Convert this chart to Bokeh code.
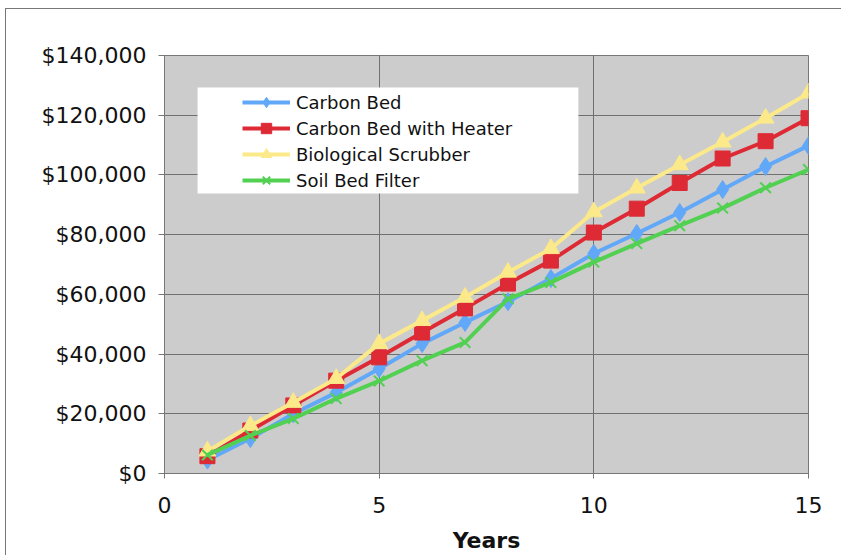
from bokeh.plotting import figure
from bokeh.models import NumeralTickFormatter, FixedTicker, Range1d, Legend, LegendItem, BoxAnnotation
from bokeh.embed import file_html
from bokeh.resources import INLINE

years = list(range(1, 16))
carbon_bed = [4500, 11700, 20000, 27100, 35100, 43500, 50600, 57500, 65300, 73700, 80400, 87400, 95100, 102800, 109800]
carbon_heater = [5800, 14400, 22800, 31100, 38900, 47200, 55300, 63600, 71300, 80700, 88700, 97300, 105500, 111300, 119000]
bio_scrubber = [7500, 16000, 23800, 31800, 43500, 51200, 59000, 67400, 75300, 87600, 95600, 103400, 111000, 119000, 127400]
soil_bed = [6200, 12700, 18400, 25100, 31000, 37800, 43900, 58500, 64000, 70800, 77000, 83000, 88900, 95700, 101800]

series_names = ["Carbon Bed", "Carbon Bed with Heater", "Biological Scrubber", "Soil Bed Filter"]
x_ticks = [0, 5, 10, 15]
y_ticks = [0, 20000, 40000, 60000, 80000, 100000, 120000, 140000]

FONT = "DejaVu Sans"

p = figure(frame_width=644, frame_height=418, output_backend="svg", toolbar_location=None,
           x_range=Range1d(0, 15), y_range=Range1d(0, 140000),
           min_border_left=158, min_border_top=46, min_border_right=33, min_border_bottom=76,
           background_fill_color="#cccccc", border_fill_color="white")
p.margin = (8, 0, 0, 5)
p.styles = {"border-left": "1px solid #777777", "border-top": "1px solid #777777"}

p.outline_line_color = "#777777"
p.outline_line_width = 1

p.xaxis.ticker = FixedTicker(ticks=x_ticks)
p.yaxis.ticker = FixedTicker(ticks=y_ticks)
p.yaxis.formatter = NumeralTickFormatter(format="$0,0")
p.xgrid.grid_line_color = "#707070"
p.ygrid.grid_line_color = "#707070"
p.xgrid.grid_line_width = 1
p.ygrid.grid_line_width = 1

for ax in (p.xaxis[0], p.yaxis[0]):
    ax.axis_line_color = "#777777"
    ax.major_tick_line_color = "#777777"
    ax.minor_tick_line_color = None
    ax.major_tick_in = 0
    ax.major_label_text_font = FONT
    ax.major_label_text_font_size = "22px"
    ax.major_label_text_color = "#111111"

p.yaxis.major_tick_out = 6
p.yaxis.major_label_standoff = 12
p.xaxis.major_tick_out = 5
p.xaxis.major_label_standoff = 18
p.xaxis.axis_label = "Years"
p.xaxis.axis_label_text_font = FONT
p.xaxis.axis_label_text_font_style = "bold"
p.xaxis.axis_label_text_font_size = "22px"
p.xaxis.axis_label_text_color = "#111111"
p.xaxis.axis_label_standoff = 12

# white legend background box
p.add_layout(BoxAnnotation(left=0.77, right=9.64, top=129300, bottom=93800,
                           fill_color="white", fill_alpha=1.0, line_color=None, level="annotation"))

colors = ["#62a8f8", "#dd2a35", "#fbe98a", "#52d052"]
series = [carbon_bed, carbon_heater, bio_scrubber, soil_bed]
items = []
for name, vals, col in zip(series_names, series, colors):
    ln = p.line(years, vals, line_color=col, line_width=4)
    if name == "Carbon Bed":
        mk = p.scatter(years, vals, marker="diamond", size=18, fill_color=col, line_color=col)
    elif name == "Carbon Bed with Heater":
        mk = p.scatter(years, vals, marker="square", size=15, fill_color=col, line_color=col)
    elif name == "Biological Scrubber":
        mk = p.scatter(years, vals, marker="triangle", size=17, fill_color=col, line_color=col)
    else:
        mk = p.scatter(years, vals, marker="x", size=15, line_color=col, line_width=2)
    items.append(LegendItem(label=name, renderers=[ln, mk]))

legend = Legend(items=items, location=(78, 280), padding=0, margin=0, spacing=0,
                glyph_width=48, glyph_height=26, label_height=26, label_standoff=6,
                label_text_font=FONT, label_text_font_size="18px", label_text_color="#111111",
                background_fill_alpha=0, border_line_color=None)
p.add_layout(legend, "center")

open("out.html", "w").write(file_html(p, INLINE))
